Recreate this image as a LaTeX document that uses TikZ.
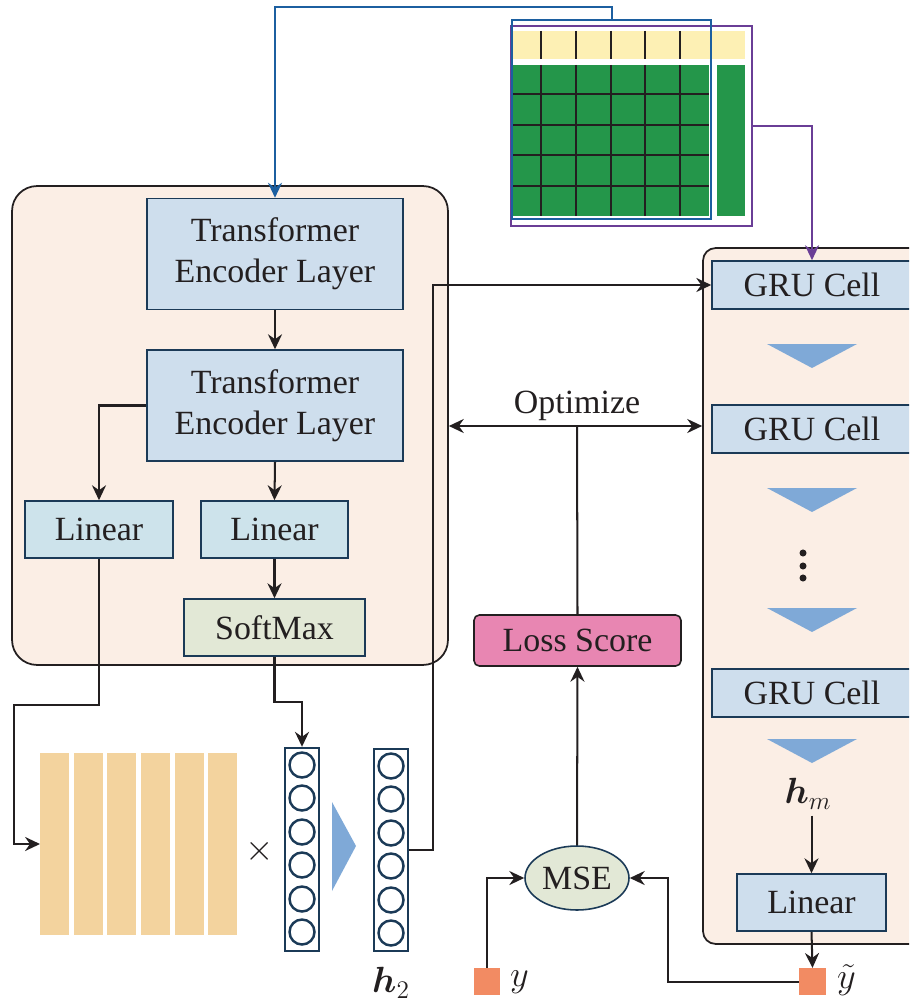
\documentclass[tikz,border=0pt]{standalone}
\usepackage{amsmath,amssymb}
\usepackage{fontspec}
\setmainfont{Liberation Serif}
\usetikzlibrary{arrows.meta,calc,shapes.geometric}

\definecolor{ink}{HTML}{231F20}
\definecolor{navy}{HTML}{1B3A57}
\definecolor{panelbg}{HTML}{FBEEE5}
\definecolor{encblue}{HTML}{CEDEED}
\definecolor{linblue}{HTML}{CDE3EB}
\definecolor{sage}{HTML}{E2E8D6}
\definecolor{losspink}{HTML}{E886B2}
\definecolor{sqorange}{HTML}{F28B63}
\definecolor{barsand}{HTML}{F3D39E}
\definecolor{triblue}{HTML}{7FA9D7}
\definecolor{cellgreen}{HTML}{24964A}
\definecolor{hdryellow}{HTML}{FDF0B4}
\definecolor{lineblue}{HTML}{1C5FA0}
\definecolor{linepurple}{HTML}{6A3E96}

\begin{document}
\begin{tikzpicture}[x=0.02cm,y=-0.02cm,
		font=\fontsize{19.3}{23.5}\selectfont,
		every node/.style={text=ink},
		panel/.style={draw=ink,line width=1pt,fill=panelbg,inner sep=0pt},
		block/.style={draw=navy,line width=0.9pt,fill=encblue,inner sep=0pt,align=center},
		conn/.style={draw=ink,line width=1.15pt,-{Stealth[length=8.5pt,width=8pt,inset=2.8pt]}},
		plain/.style={draw=ink,line width=1.15pt}]
			\useasboundingbox (0,0) rectangle (909,1003);
			\clip (0,0) rectangle (909,1003);
			% panels
			\node[panel,rounded corners=0.5cm,minimum width=8.72cm,minimum height=9.58cm] (encPanel) at (230,425.5) {};
			\node[panel,rounded corners=0.25cm,minimum width=4.54cm,minimum height=13.92cm] (gruPanel) at (816.5,596) {};
			% data table
			\fill[hdryellow] (513,31) rectangle (745,59);
			\fill[cellgreen] (513,65) rectangle (709,216);
			\fill[cellgreen] (717,65) rectangle (745,216);
			\foreach \gx in {541,576,611,645,680} {
				\draw[line width=1.1pt,ink] (\gx,31) -- (\gx,59);
				\draw[line width=1.1pt,ink] (\gx,65) -- (\gx,216);
			}
			\foreach \gy in {94,125,155,186}
				\draw[line width=1.1pt,ink] (513,\gy) -- (709,\gy);
			\node[draw=linepurple,line width=1.2pt,inner sep=0pt,minimum width=4.82cm,minimum height=4cm] (tblPurple) at (631.5,126) {};
			\node[draw=lineblue,line width=1.2pt,inner sep=0pt,minimum width=3.98cm,minimum height=3.98cm] (tblBlue) at (611.5,119.5) {};
			% encoder side
			\node[block,minimum width=5.12cm,minimum height=2.22cm] (encA) at (275,254) {Transformer\\Encoder Layer};
			\node[block,minimum width=5.12cm,minimum height=2.22cm] (encB) at (275,405.5) {Transformer\\Encoder Layer};
			\node[block,fill=linblue,minimum width=2.96cm,minimum height=1.14cm] (linL) at (99,529.5) {Linear};
			\node[block,fill=linblue,minimum width=2.94cm,minimum height=1.14cm] (linM) at (274.5,529.5) {Linear};
			\node[block,fill=sage,minimum width=3.62cm,minimum height=1.14cm] (soft) at (274.5,627.5) {SoftMax};
			% feature bars and vectors
			\foreach \bx in {40,74,107,141,175,208}
				\fill[barsand] (\bx,753) rectangle ++(28.5,182);
			\coordinate (barsIn) at (40,844);
			\node (times) at (260,851) {$\times$};
			\node[draw=navy,line width=1.4pt,inner sep=0pt,minimum width=0.68cm,minimum height=4.06cm] (vecA) at (302,849.5) {};
			\node[draw=navy,line width=1.4pt,inner sep=0pt,minimum width=0.68cm,minimum height=4.04cm] (vecB) at (391,850) {};
			\foreach \cy in {765,798,832,865,899,932} {
				\draw[navy,line width=1.4pt] (302,\cy) circle (0.25cm);
				\draw[navy,line width=1.4pt] (391,\cy+1) circle (0.25cm);
			}
			\fill[triblue] (332,802) -- (356,846) -- (332,891) -- cycle;
			\node (hTwo) at (391,983) {$\boldsymbol{h}_2$};
			% gru side
			\node[block,minimum width=4cm,minimum height=0.96cm] (gruA) at (812,285) {GRU Cell};
			\node[block,minimum width=4cm,minimum height=0.96cm] (gruB) at (812,429) {GRU Cell};
			\node[block,minimum width=4cm,minimum height=0.96cm] (gruC) at (812,693) {GRU Cell};
			\foreach \ty in {344,488,608,739}
				\fill[triblue] (767,\ty) -- (857,\ty) -- (812,\ty+24) -- cycle;
			\foreach \dy in {553,566,578}
				\fill[ink] (803,\dy) circle (2pt);
			\node (hM) at (808,794) {$\boldsymbol{h}_m$};
			\node[block,minimum width=2.98cm,minimum height=1.14cm] (linR) at (811.5,902.5) {Linear};
			% loss
			\node[block,draw=ink,fill=losspink,rounded corners=3pt,minimum width=4.14cm,minimum height=1.02cm] (loss) at (577.5,640.5) {Loss Score};
			\node[ellipse,draw=navy,line width=0.9pt,fill=sage,inner sep=0pt,minimum width=2.08cm,minimum height=1.28cm] (mse) at (577,878) {MSE};
			\node[fill=sqorange,inner sep=0pt,minimum size=0.53cm] (ySq) at (487,981.5) {};
			\node[anchor=west,inner sep=1pt] (yLbl) at (508,982) {$y$};
			\node[fill=sqorange,inner sep=0pt,minimum size=0.53cm] (yHat) at (812.5,981.5) {};
			\node[anchor=west,inner sep=1pt] (yHatLbl) at (835,980) {$\tilde{y}$};
			% connectors
			\draw[conn,lineblue] (tblBlue.north) -- ++(0,-12) -| (encA.north);
			\draw[conn,linepurple] (tblPurple.east) -| (gruA.north);
			\draw[conn] (encA.south) -- (encB.north);
			\draw[conn] (encB.west) -| (linL.north);
			\draw[conn] (encB.south) -- (linM.north);
			\draw[conn] (linM.south) -- (soft.north);
			\coordinate (turnA) at (14,705);
			\draw[conn] (linL.south) |- (turnA) |- (barsIn);
			\coordinate (turnB) at (302,702);
			\draw[conn] (soft.south) |- (turnB) -- (vecA.north);
			\draw[conn] (vecB.east) -- ++(24,0) |- (gruA.west);
			\coordinate (optC) at (577,426);
			\draw[conn,{Stealth[length=8.5pt,width=8pt,inset=2.8pt]}-{Stealth[length=8.5pt,width=8pt,inset=2.8pt]}] (encPanel.east |- optC) -- (gruPanel.west |- optC);
			\node (optLbl) at (577,406) {Optimize};
			\draw[plain] (loss.north) -- (optC);
			\draw[conn] (mse.north) -- (loss.south);
			\draw[conn] (ySq.north) |- (mse.west);
			\draw[conn] (yHat.west) -- ++(-131,0) |- (mse.east);
			\draw[conn] (linR.north |- hM.south) -- (linR.north);
			\draw[conn] (linR.south) -- (yHat.north);
		\end{tikzpicture}
\end{document}
